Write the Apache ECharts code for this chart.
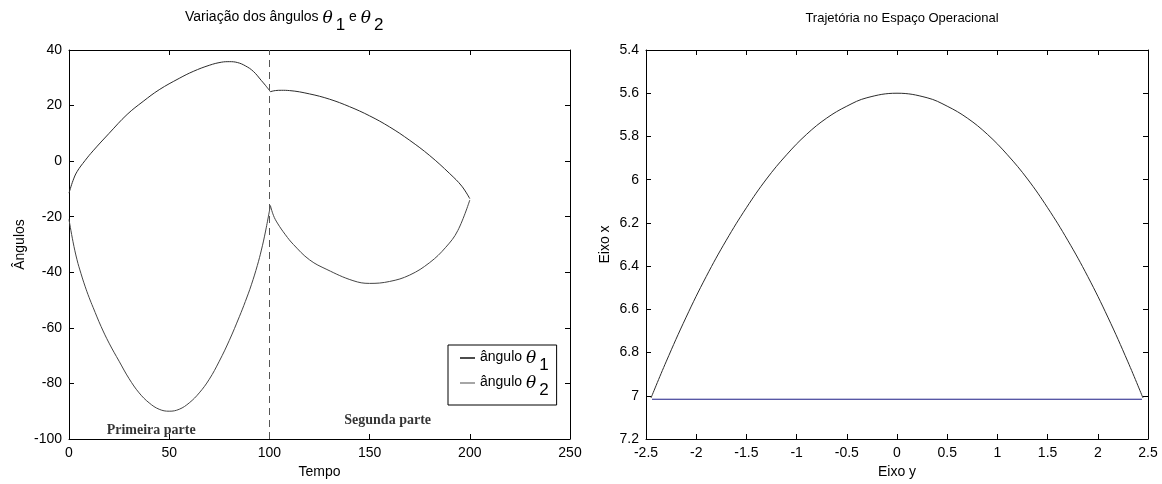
<!DOCTYPE html>
<html lang="pt">
<head>
    <meta charset="UTF-8">
    <title>Ângulos e trajetória</title>
    <script type="text/javascript" src="https://cdn.jsdelivr.net/npm/echarts@6/dist/echarts.min.js"></script>
    <style>
        html, body { margin: 0; padding: 0; background: #fff; }
        #main { width: 1162px; height: 484px; }
    </style>
</head>
<body>
<div id="main"></div>
<script type="text/javascript">
    // dados (primeira e segunda parte separadas no tempo 100)
    var tempo1a = [0, 2, 4, 8, 12, 20, 29, 37, 45, 55, 62, 70, 76, 80, 84, 88, 92, 96, 98, 100.5];
    var theta1a = [-11.5, -7, -3.8, 0.2, 3.7, 10, 16.8, 21.5, 25.7, 29.8, 32.3, 34.5, 35.6, 35.8, 35.5, 34.3, 32.3, 29, 27.3, 25];
    var tempo1b = [100.5, 103, 106, 110, 120, 130, 140, 150, 160, 170, 180, 190, 196, 200];
    var theta1b = [25, 25.4, 25.5, 25.4, 24.2, 22.3, 19.6, 16.3, 12.3, 7.5, 2, -4.5, -9, -13.5];

    var tempo2a = [0, 2, 4, 6, 8, 10, 12, 16, 20, 25, 30, 35, 40, 45, 50, 55, 60, 65, 70, 75, 80, 85, 88, 91, 94, 96, 98, 100.5];
    var theta2a = [-21, -29, -35.5, -40.5, -45, -49, -52.6, -59.5, -65.5, -72, -78.3, -83.4, -87, -89.3, -90, -89.3, -87, -83.4, -78.5, -72, -64.5, -56, -50.5, -44.5, -37.5, -32, -25.5, -16];
    var tempo2b = [100.5, 102, 104, 108, 112, 120, 128.7, 141.7, 150, 160, 170, 180, 188, 194, 200];
    var theta2b = [-16, -19.5, -22.3, -26.5, -30, -35.5, -39, -43, -44, -43.3, -41, -36.5, -31, -25, -14];

    var eixoY = [-2.45, -2.3, -2.1, -1.9, -1.7, -1.5, -1.3, -1.1, -0.9, -0.7, -0.5, -0.3, 0,
        0.3, 0.5, 0.7, 0.9, 1.1, 1.3, 1.5, 1.7, 1.9, 2.1, 2.3, 2.45];
    var eixoX = [7.01, 6.843, 6.636, 6.448, 6.28, 6.13, 5.997, 5.885, 5.79, 5.715, 5.66, 5.621, 5.6,
        5.621, 5.66, 5.715, 5.79, 5.885, 5.997, 6.13, 6.28, 6.448, 6.636, 6.843, 7.01];
    var linhaY = [-2.44, 2.44];
    var linhaX = [7.016, 7.016];

    var divisao = 100;
    var partes = [[41, -97, 'Primeira parte'], [159, -93.3, 'Segunda parte']];

    function pares(a, b) {
        var r = [];
        for (var i = 0; i < a.length; i++) r.push([a[i], b[i]]);
        return r;
    }

    var fonte = 'Liberation Sans';
    function eixo(extra) {
        var base = {
            axisLine: {show: true, onZero: false, lineStyle: {color: '#000', width: 1}},
            axisTick: {show: true, inside: true, length: 5, lineStyle: {color: '#000'}},
            axisLabel: {color: '#000', fontSize: 14, fontFamily: fonte, margin: 7},
            splitLine: {show: false},
            nameTextStyle: {color: '#000', fontSize: 14, fontFamily: fonte}
        };
        for (var k in extra) base[k] = extra[k];
        return base;
    }
    function semRotulo(extra) {
        var e = eixo(extra);
        e.axisLabel = {show: false};
        return e;
    }

    function estilosTheta(tam) {
        return {
            t: {fontSize: tam, fontFamily: fonte, fontWeight: 'normal', color: '#000', verticalAlign: 'top', lineHeight: 16},
            th: {fontSize: 17, fontFamily: 'DejaVu Serif', fontStyle: 'italic', fontWeight: 'normal', color: '#000', verticalAlign: 'top', lineHeight: 16},
            sub: {fontSize: 17, fontFamily: fonte, fontWeight: 'normal', color: '#000', verticalAlign: 'top', lineHeight: 16, padding: [7, 0, 0, 3]}
        };
    }

    var linha1 = {color: '#2b2b2b', width: 1};
    var linha2 = {color: '#444', width: 1};

    function curva(nome, x, y, dados, estilo) {
        return {
            name: nome,
            type: 'line',
            xAxisIndex: x, yAxisIndex: y,
            data: dados,
            symbol: 'none',
            smooth: 0.4,
            lineStyle: estilo
        };
    }

    var s1a = curva('ângulo θ1', 0, 0, pares(tempo1a, theta1a), linha1);
    s1a.markLine = {
        silent: true,
        symbol: 'none',
        label: {show: false},
        lineStyle: {color: '#555', width: 1, type: [7, 5]},
        data: [{xAxis: divisao}]
    };

    var chart = echarts.init(document.getElementById('main'));
    var option = {
        backgroundColor: '#fff',
        animation: false,
        title: [{
            text: '{t|Variação dos ângulos }{th|θ}{sub|1}{t| e }{th|θ}{sub|2}',
            left: 180, top: 5,
            textStyle: {fontWeight: 'normal', rich: estilosTheta(14)}
        }, {
            text: 'Trajetória no Espaço Operacional',
            left: 897, top: 7, textAlign: 'center',
            textStyle: {fontSize: 13, fontFamily: fonte, color: '#000', fontWeight: 'normal'}
        }],
        legend: {
            data: [
                {name: 'ângulo θ1', icon: 'rect', itemStyle: {color: '#111'}},
                {name: 'ângulo θ2', icon: 'rect', itemStyle: {color: '#888'}}
            ],
            orient: 'vertical',
            left: 448, top: 345,
            padding: [5, 8, 6, 12],
            itemGap: 1,
            itemWidth: 15,
            itemHeight: 1.5,
            borderColor: '#000',
            borderWidth: 1,
            backgroundColor: '#fff',
            formatter: function (name) {
                return '{t|ângulo }{th|θ}{sub|' + name.slice(-1) + '}';
            },
            textStyle: {rich: estilosTheta(14)}
        },
        grid: [
            {left: 69, top: 50, width: 501, height: 393},
            {left: 646, top: 50, width: 502, height: 393}
        ],
        xAxis: [
            eixo({type: 'value', gridIndex: 0, position: 'bottom', min: 0, max: 250, interval: 50,
                name: 'Tempo', nameLocation: 'middle', nameGap: 26}),
            semRotulo({type: 'value', gridIndex: 0, position: 'top', min: 0, max: 250, interval: 50}),
            eixo({type: 'value', gridIndex: 1, position: 'bottom', min: -2.5, max: 2.5, interval: 0.5,
                name: 'Eixo y', nameLocation: 'middle', nameGap: 26}),
            semRotulo({type: 'value', gridIndex: 1, position: 'top', min: -2.5, max: 2.5, interval: 0.5})
        ],
        yAxis: [
            eixo({type: 'value', gridIndex: 0, position: 'left', min: -100, max: 40, interval: 20,
                name: 'Ângulos', nameLocation: 'middle', nameGap: 42}),
            semRotulo({type: 'value', gridIndex: 0, position: 'right', min: -100, max: 40, interval: 20}),
            eixo({type: 'value', gridIndex: 1, position: 'left', inverse: true, min: 5.4, max: 7.2, interval: 0.2,
                name: 'Eixo x', nameLocation: 'middle', nameGap: 34,
                axisLabel: {color: '#000', fontSize: 14, fontFamily: fonte, margin: 7,
                    formatter: function (v) { return String(+v.toFixed(1)); }}}),
            semRotulo({type: 'value', gridIndex: 1, position: 'right', inverse: true, min: 5.4, max: 7.2, interval: 0.2})
        ],
        series: [
            s1a,
            curva('ângulo θ1', 0, 0, pares(tempo1b, theta1b), linha1),
            curva('ângulo θ2', 0, 0, pares(tempo2a, theta2a), linha2),
            curva('ângulo θ2', 0, 0, pares(tempo2b, theta2b), linha2),
            {
                name: 'partes',
                type: 'scatter',
                xAxisIndex: 0, yAxisIndex: 0,
                symbolSize: 0,
                data: partes,
                silent: true,
                label: {
                    show: true, position: 'inside',
                    formatter: function (p) { return p.value[2]; },
                    fontFamily: 'Liberation Serif', fontWeight: 'bold', fontSize: 14, color: '#000'
                }
            },
            curva('trajetoria', 2, 2, pares(eixoY, eixoX), {color: '#2b2b2b', width: 1}),
            {
                name: 'base',
                type: 'line',
                xAxisIndex: 2, yAxisIndex: 2,
                data: pares(linhaY, linhaX),
                symbol: 'none',
                lineStyle: {color: '#1c1c86', width: 1}
            }
        ]
    };
    chart.setOption(option);
</script>
</body>
</html>
